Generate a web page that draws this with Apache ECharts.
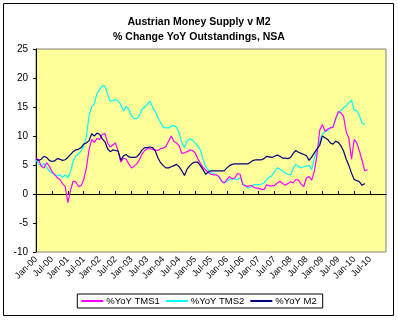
<!DOCTYPE html>
<html>
<head>
<meta charset="utf-8">
<script src="https://cdn.jsdelivr.net/npm/echarts@6/dist/echarts.min.js"></script>
<style>
html,body{margin:0;padding:0;background:#fff;}
#c{width:398px;height:321px;}
</style>
</head>
<body>
<div id="c"></div>
<script>
var monthNames = ['Jan','Feb','Mar','Apr','May','Jun','Jul','Aug','Sep','Oct','Nov','Dec'];
var years = ['00','01','02','03','04','05','06','07','08','09','10','11'];
var tickLabels = ['Jan-00','Jul-00','Jan-01','Jul-01','Jan-02','Jul-02','Jan-03','Jul-03','Jan-04','Jul-04','Jan-05','Jul-05','Jan-06','Jul-06','Jan-07','Jul-07','Jan-08','Jul-08','Jan-09','Jul-09','Jan-10','Jul-10'];
var yTicks = [-10,-5,0,5,10,15,20,25];

// monthly values from Jan-00
var tms1 = [6.2,5.9,4.8,4.5,5.4,4.8,3.9,3.4,2.8,2.5,1.8,1.3,
  -1.5,0.6,2.2,2.1,1.3,1.4,2.5,4.5,7.6,9.4,8.9,9.6,
  9.4,10.3,10.4,8.8,8.1,8.5,8.8,7.3,5.5,6.2,6.0,5.2,
  4.5,4.8,5.2,5.9,6.9,7.5,7.8,7.8,7.7,7.6,7.5,7.8,
  7.9,8.2,9.1,10.0,9.1,8.8,8.3,7.0,7.1,7.3,7.6,7.5,
  7.1,6.1,5.3,4.6,4.1,3.7,3.4,3.3,3.3,3.0,2.2,1.9,
  2.5,3.0,2.6,2.8,3.5,3.4,1.6,1.4,1.3,1.5,1.2,1.0,
  1.0,0.8,0.8,1.6,1.4,1.4,1.5,1.9,2.2,1.8,1.5,1.8,
  2.1,1.9,2.5,2.4,1.7,1.3,2.8,3.0,2.4,4.0,6.8,11.0,
  12.0,10.8,11.2,11.4,11.5,13.0,14.2,14.0,13.4,10.7,9.6,6.0,
  9.4,8.8,7.4,5.7,4.0,4.2];
var tms2 = [6.0,5.2,4.8,5.3,4.6,4.0,3.6,3.3,3.1,3.3,2.9,3.3,
  2.8,3.8,5.6,6.6,6.9,7.4,8.3,9.9,13.5,15.0,15.6,17.3,
  18.0,18.7,18.6,17.2,16.0,16.1,16.3,16.0,15.4,14.3,15.1,14.6,
  13.5,13.0,13.0,13.5,14.6,15.0,15.5,16.0,14.9,14.2,13.2,12.3,
  11.5,11.4,11.4,11.7,11.8,11.5,10.5,8.8,8.0,9.2,9.5,9.3,
  8.8,8.3,7.6,6.0,4.7,4.1,3.7,3.5,3.3,2.9,2.3,1.9,
  2.2,2.5,2.6,2.6,2.5,2.8,1.8,1.4,1.0,1.2,1.6,1.6,
  1.6,1.7,1.9,2.5,2.9,3.2,3.9,4.5,4.3,3.9,3.6,3.4,
  3.3,4.4,5.1,4.8,4.5,4.7,4.8,4.9,4.2,6.2,7.5,9.0,
  10.4,10.7,11.0,11.4,11.6,12.8,14.0,14.4,14.9,15.2,15.7,16.2,
  14.5,14.3,13.5,12.2,12.0];
var m2 = [6.0,5.8,6.0,6.5,6.3,5.8,5.6,5.7,6.1,6.0,5.8,5.9,
  6.3,6.8,7.3,7.6,7.7,8.0,8.6,8.8,9.2,10.4,10.0,10.5,
  10.3,9.5,9.0,7.8,7.3,7.6,7.5,7.4,5.8,6.6,6.8,6.4,
  6.3,6.3,6.4,6.9,7.6,8.0,8.0,8.1,8.0,7.4,6.2,5.4,
  4.9,4.5,4.5,4.7,4.9,5.1,4.7,4.0,3.2,4.3,4.9,5.3,
  5.5,5.5,4.9,4.2,3.4,3.8,4.0,4.0,4.0,4.0,4.0,4.0,
  4.5,4.9,5.1,5.2,5.2,5.2,5.2,5.2,5.2,5.5,5.8,5.9,
  5.9,5.9,6.1,6.5,6.4,6.3,6.5,6.7,6.5,6.2,6.2,6.1,
  6.3,7.0,7.5,7.2,7.0,6.8,6.6,5.8,6.4,7.1,7.8,8.4,
  10.0,9.7,9.4,8.8,8.6,9.1,8.9,8.3,7.4,6.0,4.9,3.6,
  2.5,2.3,2.1,1.5,1.8];

var categories = [];
for (var y = 0; y < years.length; y++) {
  for (var mo = 0; mo < 12; mo++) {
    categories.push(monthNames[mo] + '-' + years[y]);
    if (categories.length === 133) break;
  }
  if (categories.length === 133) break;
}
function pad(a){ var r = a.slice(); while (r.length < categories.length) r.push(null); return r; }
function isTick(i, v){ return tickLabels.indexOf(v) >= 0; }

var chart = echarts.init(document.getElementById('c'), null, {renderer:'canvas'});
var FONT = 'Liberation Sans, Arial, sans-serif';
chart.setOption({
  animation: false,
  backgroundColor: '#ffffff',
  textStyle: {fontFamily: FONT},
  title: {
    text: 'Austrian Money Supply v M2\n% Change YoY Outstandings, NSA',
    left: 'center', top: 10,
    textStyle: {fontFamily: FONT, fontSize: 10.5, fontWeight: 'bold', color: '#000', lineHeight: 15}
  },
  graphic: [{
    type: 'rect', shape: {x: 3.5, y: 3.5, width: 390, height: 312},
    style: {fill: 'none', stroke: '#000', lineWidth: 1}, z: -1, silent: true
  }],
  legend: {
    bottom: 13, left: 'center',
    backgroundColor: '#fff', borderColor: '#000', borderWidth: 1,
    padding: [2, 6, 2, 4], itemGap: 6, itemWidth: 22, itemHeight: 2, icon: 'rect',
    textStyle: {fontFamily: FONT, fontSize: 9.5, color: '#000', padding: [0,0,0,-2]},
    data: ['%YoY TMS1', '%YoY TMS2', '%YoY M2']
  },
  grid: {
    left: 36, right: 12, top: 49, bottom: 69, show: true,
    backgroundColor: '#FFFF99', borderColor: '#808080', borderWidth: 1
  },
  xAxis: [{
    type: 'category', data: categories, boundaryGap: false, position: 'bottom',
    axisLine: {show: false, onZero: false},
    axisTick: {show: false},
    splitLine: {show: false},
    axisLabel: {
      interval: isTick, rotate: 45, fontSize: 9, color: '#000', margin: 6, fontFamily: FONT
    }
  }, {
    type: 'category', data: categories, boundaryGap: false, position: 'bottom',
    axisLine: {show: true, onZero: true, lineStyle: {color: '#000', width: 1}},
    axisTick: {show: true, inside: true, interval: isTick, length: 3, lineStyle: {color: '#000'}},
    axisLabel: {show: false},
    splitLine: {show: false}
  }],
  yAxis: {
    type: 'value', min: -10, max: 25, interval: 5,
    axisLine: {show: true, lineStyle: {color: '#000'}},
    axisTick: {show: true, length: 3, lineStyle: {color: '#000'}},
    splitLine: {show: false},
    axisLabel: {fontSize: 10, color: '#000', margin: 8, fontFamily: FONT,
      formatter: function(v){ return yTicks.indexOf(v) >= 0 ? String(v) : ''; }}
  },
  series: [
    {name: '%YoY TMS1', type: 'line', data: pad(tms1), showSymbol: false, xAxisIndex: 0,
     lineStyle: {color: '#FF00FF', width: 1.2}, itemStyle: {color: '#FF00FF'}, z: 3},
    {name: '%YoY TMS2', type: 'line', data: pad(tms2), showSymbol: false, xAxisIndex: 0,
     lineStyle: {color: '#00FFFF', width: 1.2}, itemStyle: {color: '#00FFFF'}, z: 2},
    {name: '%YoY M2', type: 'line', data: pad(m2), showSymbol: false, xAxisIndex: 0,
     lineStyle: {color: '#000080', width: 1.2}, itemStyle: {color: '#000080'}, z: 4}
  ]
});
</script>
</body>
</html>
